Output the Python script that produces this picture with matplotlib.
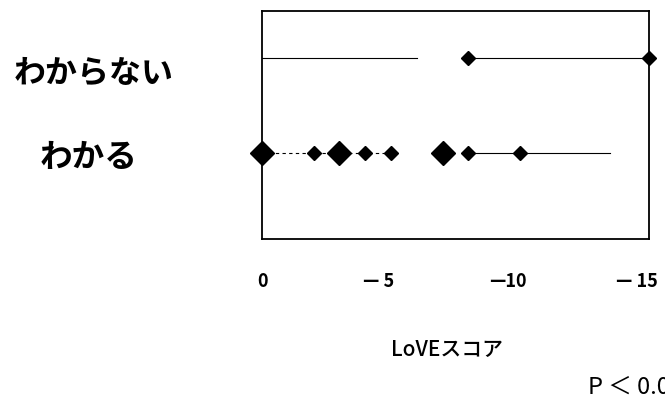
import matplotlib
matplotlib.use("Agg")
import matplotlib.pyplot as plt
import matplotlib.transforms as mtransforms

plt.rcParams['font.family'] = ['Noto Sans CJK JP', 'DejaVu Sans']

# data
groups = ["わかる", "わからない"]
known_scores = [0, -2, -3, -4, -5, -7, -8, -10]
known_counts = [2, 1, 2, 1, 1, 2, 1, 1]
unknown_scores = [-8, -15]
unknown_counts = [1, 1]
x_ticks = [0, -5, -10, -15]
x_tick_labels = ["0", "— 5", "—10", "— 15"]

fig = plt.figure(figsize=(6.65, 4.01), dpi=100)
ax = fig.add_axes([0.394, 0.404, 0.582, 0.5686])

# thin guide lines along each row (as in the scanned original)
ax.plot([0, -6], [1, 1], color='black', lw=0.8)
ax.plot([-8, -15], [1, 1], color='black', lw=0.8)
ax.plot([0, -5], [0, 0], color='black', lw=0.8, ls=(0, (3, 3)))
ax.plot([-8, -13.5], [0, 0], color='black', lw=0.8)


def size_of(n):
    return 12 if n > 1 else 7


for x, n in zip(known_scores, known_counts):
    ax.plot(x, 0, marker='D', ms=size_of(n), color='black', clip_on=False, zorder=3)
for x, n in zip(unknown_scores, unknown_counts):
    ax.plot(x, 1, marker='D', ms=size_of(n), color='black', clip_on=False, zorder=3)

ax.set_xlim(0, -15)
ax.set_ylim(-0.9, 1.5)
ax.set_yticks([])
ax.set_xticks(x_ticks)
ax.set_xticklabels(x_tick_labels, fontsize=13, fontweight='bold')
ax.tick_params(axis='x', length=0, pad=24)
shift = mtransforms.ScaledTranslation(-12 / 100, 0, fig.dpi_scale_trans)
for lab in ax.get_xticklabels()[1:]:
    lab.set_transform(lab.get_transform() + shift)
for sp in ax.spines.values():
    sp.set_linewidth(1.3)

fig.text(0.021, 0.818, groups[1], fontsize=23, fontweight='bold', va='center', ha='left')
fig.text(0.060, 0.606, groups[0], fontsize=23.5, fontweight='bold', va='center', ha='left')
fig.text(0.672, 0.127, "LoVEスコア", fontsize=15, fontweight='medium', va='center', ha='center')
fig.text(0.884, 0.035, "P ＜ 0.05", fontsize=17, va='center', ha='left')

fig.savefig("out.png", dpi=100)
